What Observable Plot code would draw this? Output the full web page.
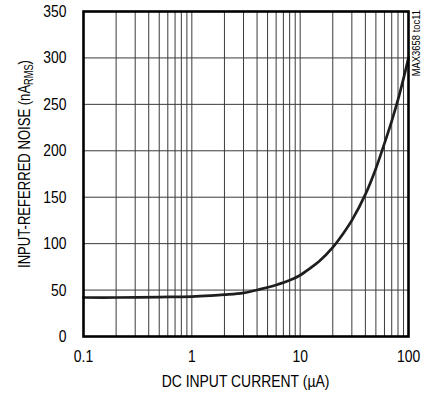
<!DOCTYPE html>
<html>
<head>
<meta charset="utf-8">
<script src="https://cdn.jsdelivr.net/npm/d3@7"></script>
<script src="https://cdn.jsdelivr.net/npm/@observablehq/plot@0.6"></script>
<style>
  html, body { margin: 0; padding: 0; background: #fff; }
  #chart { width: 422px; height: 393px; }
</style>
</head>
<body>
<div id="chart"></div>
<script>
// ---- data ----
const current = [0.1, 0.2, 0.5, 1, 1.5, 2, 3, 4.3, 6, 8, 10, 12.5, 15, 20, 25, 30, 40, 50, 60, 70, 80, 90, 100];
const noise   = [42, 42, 42.5, 43, 44, 45, 47, 51, 55.5, 60.5, 66, 74, 81, 96, 111, 125, 153, 181, 208, 232, 255, 278, 300];
const xTickValues = [0.1, 1, 10, 100];
const yTickValues = [0, 50, 100, 150, 200, 250, 300, 350];
const decadeStarts = [0.1, 1, 10];
const decadeMultipliers = [1, 2, 3, 4, 5, 6, 7, 8, 9];
const xLabel = "DC INPUT CURRENT (\u00B5A)";
const yLabelMain = "INPUT-REFERRED NOISE (nA";
const yLabelSub = "RMS";
const yLabelEnd = ")";
const sideNote = "MAX3658 toc11";

const data = current.map((c, i) => ({current: c, noise: noise[i]}));
const xGrid = decadeStarts.flatMap(d => decadeMultipliers.map(m => +(d * m).toPrecision(3))).concat([100]);

const FONT = "'Liberation Sans', Arial, sans-serif";
const NARROW = 0.82;

const chart = Plot.plot({
  width: 422,
  height: 393,
  marginLeft: 83,
  marginRight: 14,
  marginTop: 11,
  marginBottom: 57,
  style: {fontFamily: FONT, fontSize: "17px", color: "#000", background: "#fff", overflow: "visible"},
  x: {type: "log", domain: [0.1, 100], label: null},
  y: {domain: [0, 350], label: null},
  marks: [
    Plot.ruleX(xGrid, {stroke: "#3a3a3a", strokeWidth: 1}),
    Plot.ruleY(yTickValues, {stroke: "#3a3a3a", strokeWidth: 1}),
    Plot.line(data, {x: "current", y: "noise", curve: "catmull-rom", stroke: "#1e1e1e", strokeWidth: 2.7}),
    Plot.frame({stroke: "#000", strokeWidth: 2.6}),
    Plot.axisX(xTickValues, {tickSize: 0, tickPadding: 13, tickFormat: d => String(d), label: null, fontSize: 17}),
    Plot.axisY(yTickValues, {tickSize: 0, tickPadding: 17, label: null, fontSize: 17})
  ]
});

document.getElementById("chart").appendChild(chart);

const svg = d3.select(chart);

// narrow the tick labels (condensed face look); scale about each label's anchor
svg.selectAll("text").each(function () {
  const t = this.getAttribute("transform") || "";
  this.setAttribute("transform", `${t} scale(${NARROW},1)`);
});

// x axis title
svg.append("text")
  .attr("transform", `translate(245.5,387) scale(${NARROW},1)`)
  .attr("text-anchor", "middle")
  .attr("font-family", FONT)
  .attr("font-size", 17)
  .attr("fill", "#000")
  .text(xLabel);

// y axis title with subscript
const yt = svg.append("text")
  .attr("transform", `translate(30,164) rotate(-90) scale(0.77,1)`)
  .attr("text-anchor", "middle")
  .attr("font-family", FONT)
  .attr("font-size", 17)
  .attr("fill", "#000");
yt.append("tspan").text(yLabelMain);
yt.append("tspan").attr("font-size", 12).attr("dy", 3).text(yLabelSub);
yt.append("tspan").attr("dy", -3).text(yLabelEnd);

// side note
svg.append("text")
  .attr("transform", `translate(420,10) rotate(-90) scale(${NARROW},1)`)
  .attr("text-anchor", "end")
  .attr("font-family", FONT)
  .attr("font-size", 11.5)
  .attr("fill", "#000")
  .text(sideNote);
</script>
</body>
</html>
